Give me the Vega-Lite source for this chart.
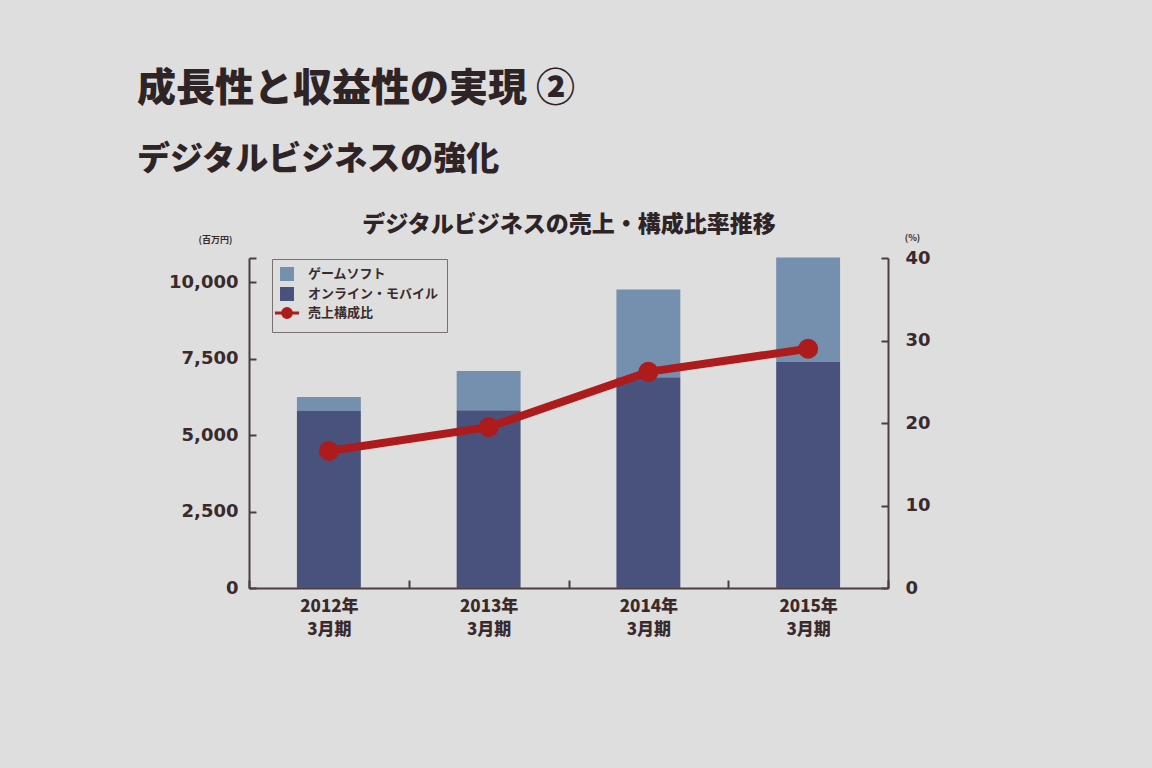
{
  "$schema": "https://vega.github.io/schema/vega-lite/v6.json",
  "width": 639,
  "height": 330,
  "autosize": {"type": "none"},
  "padding": {"left": 249, "top": 258, "right": 264, "bottom": 180},
  "background": "#dedede",
  "title": {
    "text": "成長性と収益性の実現 ②",
    "subtitle": "デジタルビジネスの強化",
    "anchor": "start",
    "frame": "group",
    "dx": -112,
    "offset": 36,
    "font": "Noto Sans CJK JP",
    "fontSize": 39,
    "fontWeight": 900,
    "color": "#2e2426",
    "subtitleFont": "Noto Sans CJK JP",
    "subtitleFontSize": 33,
    "subtitleFontWeight": 900,
    "subtitleColor": "#2e2426",
    "subtitlePadding": 35
  },
  "config": {
    "font": "Noto Sans CJK JP",
    "view": {"stroke": null},
    "axis": {
      "grid": false,
      "domainColor": "#4f3c3e",
      "domainWidth": 2,
      "tickColor": "#4f3c3e",
      "tickWidth": 2,
      "labelColor": "#3a2a2c",
      "labelFont": "DejaVu Sans",
      "labelFontWeight": "bold",
      "titleColor": "#3a2a2c",
      "titleFont": "Noto Sans CJK JP",
      "titleFontWeight": "bold"
    }
  },
  "datasets": {
    "sales": [
      {"year": "2012年3月期", "type": "オンライン・モバイル", "sales": 5790},
      {"year": "2012年3月期", "type": "ゲームソフト", "sales": 460},
      {"year": "2013年3月期", "type": "オンライン・モバイル", "sales": 5820},
      {"year": "2013年3月期", "type": "ゲームソフト", "sales": 1285},
      {"year": "2014年3月期", "type": "オンライン・モバイル", "sales": 6900},
      {"year": "2014年3月期", "type": "ゲームソフト", "sales": 2870},
      {"year": "2015年3月期", "type": "オンライン・モバイル", "sales": 7400},
      {"year": "2015年3月期", "type": "ゲームソフト", "sales": 3420}
    ],
    "ratio": [
      {"year": "2012年3月期", "ratio": 16.6},
      {"year": "2013年3月期", "ratio": 19.5},
      {"year": "2014年3月期", "ratio": 26.2},
      {"year": "2015年3月期", "ratio": 29.0}
    ]
  },
  "layer": [
    {
      "data": {"name": "sales"},
      "mark": {"type": "bar", "width": {"band": 0.4}},
      "encoding": {
        "x": {
          "field": "year",
          "type": "nominal",
          "sort": null,
          "scale": {"paddingInner": 0, "paddingOuter": 0},
          "axis": {
            "title": null,
            "labelAngle": 0,
            "labelFont": "Noto Sans CJK JP",
            "labelFontWeight": 900,
            "labelFontSize": 17,
            "labelPadding": 18,
            "labelLineHeight": 23,
            "labelExpr": "[slice(datum.label, 0, 5), slice(datum.label, 5)]",
            "tickBand": "extent",
            "tickSize": -8
          }
        },
        "y": {
          "field": "sales",
          "type": "quantitative",
          "stack": "zero",
          "scale": {"domain": [0, 10800], "nice": false},
          "axis": {
            "values": [0, 2500, 5000, 7500, 10000, 10800],
            "labelExpr": "datum.value > 10000 ? '' : format(datum.value, ',')",
            "labelFontSize": 18,
            "labelPadding": 18,
            "tickSize": -7,
            "title": "(百万円)",
            "titleAngle": 0,
            "titleFontSize": 9,
            "titleAlign": "center",
            "titleX": -34,
            "titleY": -14
          }
        },
        "color": {
          "field": "type",
          "type": "nominal",
          "scale": {
            "domain": ["ゲームソフト", "オンライン・モバイル", "売上構成比"],
            "range": ["#7590ae", "#48527c", "#ad1b1d"]
          },
          "legend": {
            "title": null,
            "orient": "none",
            "legendX": 23,
            "legendY": 1,
            "padding": 8,
            "strokeColor": "#7a7070",
            "labelFontSize": 13,
            "labelFontWeight": "bold",
            "labelColor": "#3a2a2c",
            "labelOffset": 14,
            "rowPadding": -4,
            "symbolType": "square",
            "symbolSize": 120,
            "encode": {
              "symbols": {
                "update": {
                  "shape": {"signal": "datum.value === '売上構成比' ? 'M-2.2,0L2.2,0M0.8,0A0.8,0.8,0,1,1,-0.8,0A0.8,0.8,0,1,1,0.8,0' : 'square'"},
                  "stroke": {"signal": "datum.value === '売上構成比' ? '#ad1b1d' : 'transparent'"},
                  "strokeWidth": {"value": 3}
                }
              }
            }
          }
        },
        "order": {"field": "type", "sort": "ascending"}
      }
    },
    {
      "data": {"name": "ratio"},
      "mark": {"type": "line", "strokeWidth": 8, "color": "#ad1b1d"},
      "encoding": {
        "x": {
          "field": "year",
          "type": "nominal",
          "sort": null,
          "axis": {
            "orient": "top",
            "labels": false,
            "ticks": false,
            "domain": false,
            "title": "デジタルビジネスの売上・構成比率推移",
            "titleFontSize": 23,
            "titleFontWeight": 900,
            "titlePadding": 22,
            "titleColor": "#2e2426"
          }
        },
        "y": {
          "field": "ratio",
          "type": "quantitative",
          "scale": {"domain": [0, 40], "nice": false},
          "axis": {
            "orient": "right",
            "values": [0, 10, 20, 30, 40],
            "labelFontSize": 18,
            "labelPadding": 24,
            "tickSize": -7,
            "title": "(%)",
            "titleAngle": 0,
            "titleFontSize": 9,
            "titleAlign": "center",
            "titleX": 24,
            "titleY": -16
          }
        },
        "color": {"datum": "売上構成比"}
      }
    },
    {
      "data": {"name": "ratio"},
      "mark": {"type": "circle", "size": 400, "opacity": 1},
      "encoding": {
        "x": {"field": "year", "type": "nominal", "sort": null, "axis": null},
        "y": {"field": "ratio", "type": "quantitative", "scale": {"domain": [0, 40], "nice": false}, "axis": null},
        "color": {"datum": "売上構成比"}
      }
    }
  ],
  "resolve": {"scale": {"y": "independent"}, "axis": {"x": "independent"}}
}
